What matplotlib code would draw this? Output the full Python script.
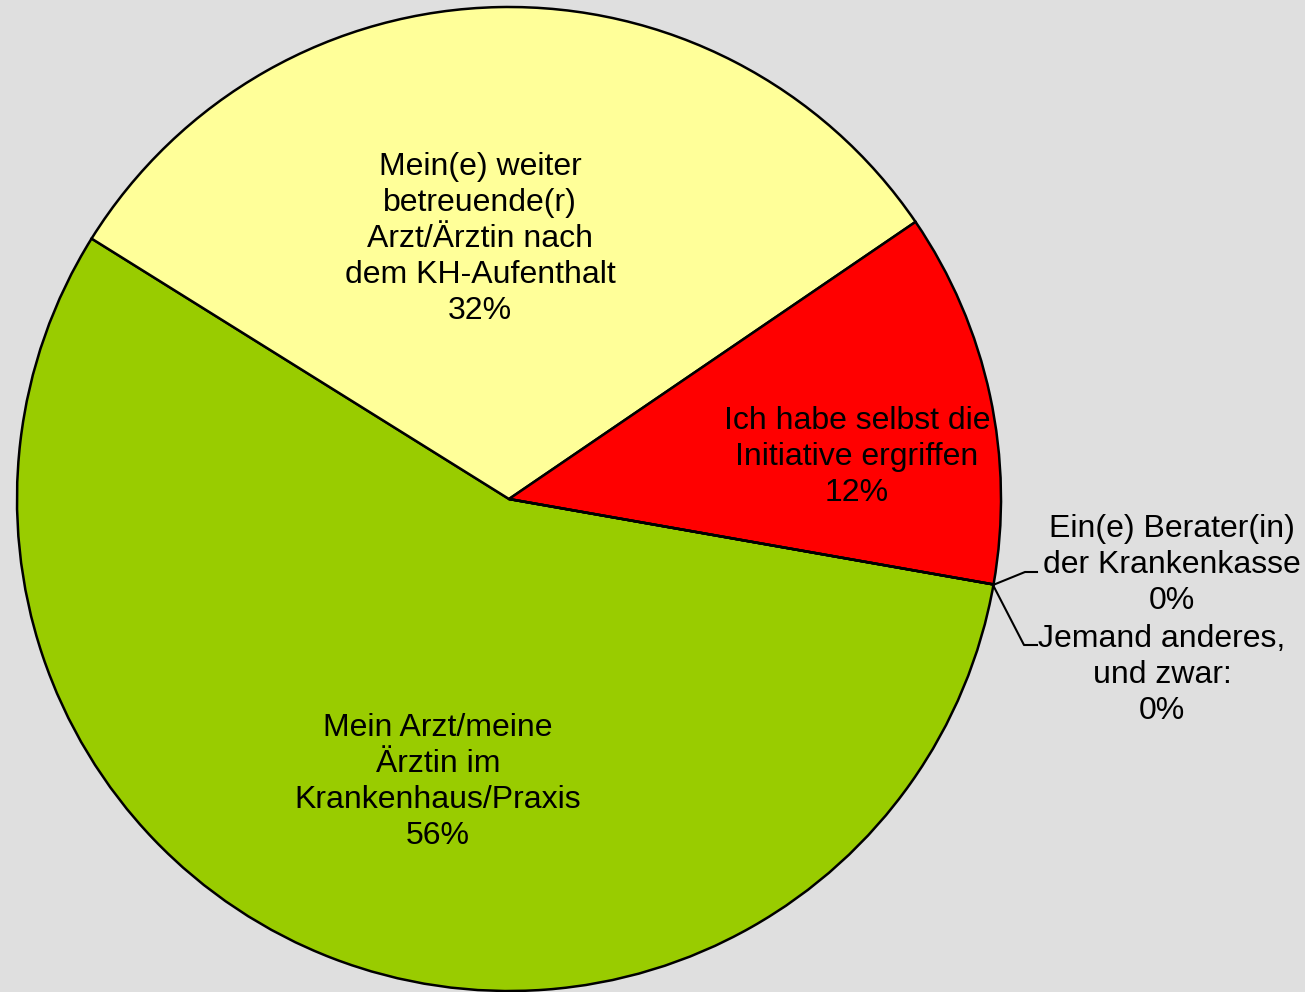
import matplotlib
matplotlib.use("Agg")
import matplotlib.pyplot as plt

plt.rcParams["font.family"] = ["Liberation Sans", "DejaVu Sans"]

# Daten
kategorien = [
    "Mein Arzt/meine\nÄrztin im\nKrankenhaus/Praxis",
    "Mein(e) weiter\nbetreuende(r)\nArzt/Ärztin nach\ndem KH-Aufenthalt",
    "Ich habe selbst die\nInitiative ergriffen",
    "Ein(e) Berater(in)\nder Krankenkasse",
    "Jemand anderes,\nund zwar:",
]
anteile = [56.1, 31.6, 12.3, 0, 0]
farben = ["#99CC00", "#FFFF99", "#FF0000", "#3366FF", "#FF9900"]

BG = "#DFDFDF"
W, H = 1305, 992

fig = plt.figure(figsize=(W / 100, H / 100), dpi=100, facecolor=BG)
ax = fig.add_axes([0, 0, 1, 1])
ax.set_facecolor(BG)

cx, cy, r = 509, H - 499, 492

wedges, _ = ax.pie(
    anteile,
    colors=farben,
    startangle=-10,
    counterclock=False,
    center=(cx, cy),
    radius=r,
    wedgeprops=dict(edgecolor="black", linewidth=1.8),
    frame=True,
)
ax.set_xlim(0, W)
ax.set_ylim(0, H)
ax.set_aspect("equal")
ax.axis("off")

# Beschriftungen (Pixelpositionen im Bild)
label_pos = [(438, 782), (480, 239), (857, 457), (1172, 565), (1162, 675)]
for name, wert, (px, py) in zip(kategorien, anteile, label_pos):
    ax.text(px, H - py, f"{name}\n{wert:.0f}%", ha="center", va="center",
            fontsize=23, linespacing=1.26, color="black")

# Führungslinien für die 0%-Segmente
ax.plot([993, 1025, 1037], [H - 585, H - 572, H - 572], color="black", lw=1.5)
ax.plot([993, 1024, 1037], [H - 585, H - 645, H - 645], color="black", lw=1.5)

fig.savefig("out.png", dpi=100, facecolor=BG)
